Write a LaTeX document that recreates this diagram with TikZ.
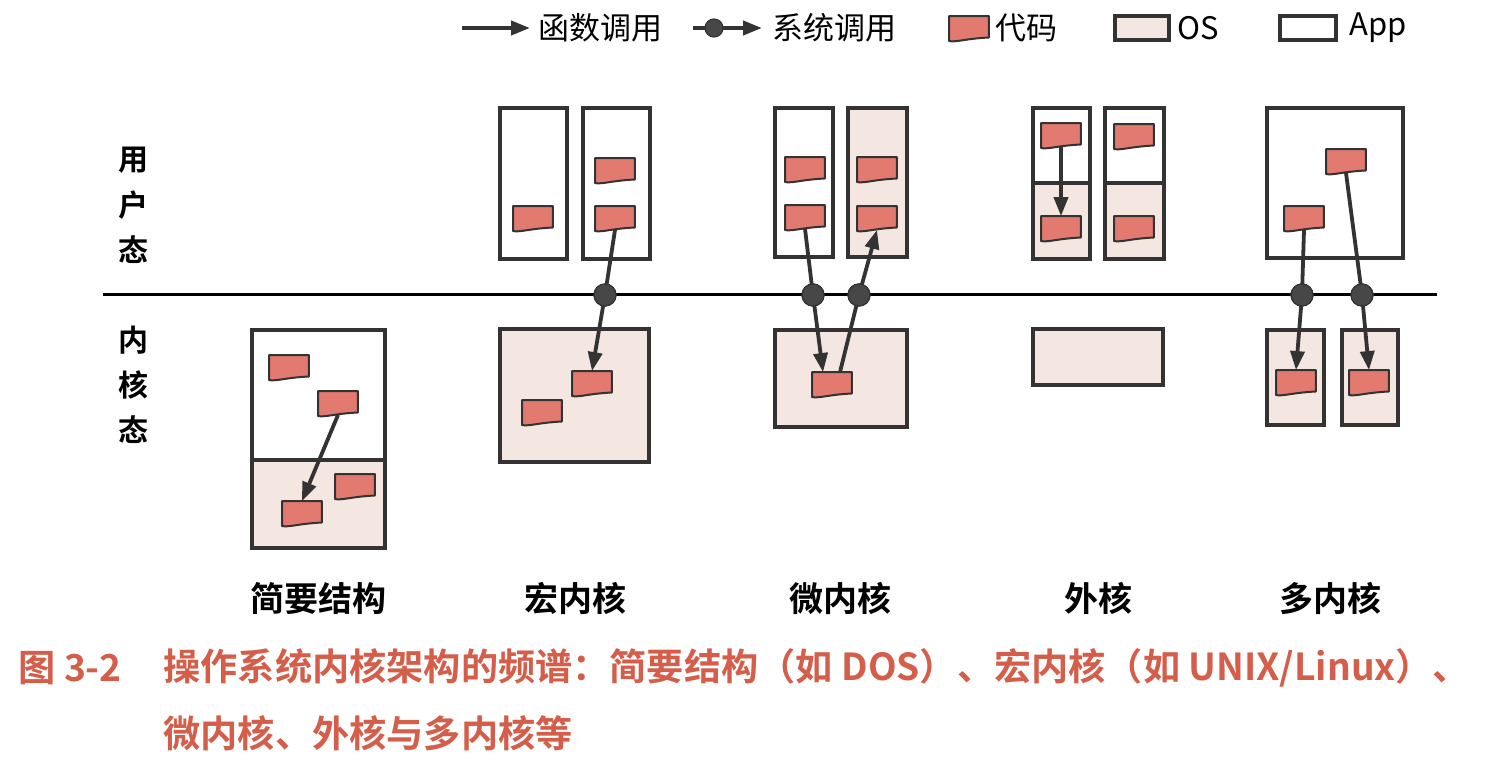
\documentclass[tikz,border=0pt]{standalone}
\usepackage{fontspec}
\setmainfont{Noto Sans CJK SC}
\newfontfamily\cjkb{Noto Sans CJK SC Bold}
\usetikzlibrary{arrows.meta,calc}
\definecolor{linec}{HTML}{333333}
\definecolor{codefill}{HTML}{E27A70}
\definecolor{osfill}{HTML}{F4E6E1}
\definecolor{capred}{HTML}{D45E4A}
\definecolor{dotc}{HTML}{474747}
\tikzset{
  sz/.style 2 args={minimum width=#1*0.5pt, minimum height=#2*0.5pt},
  appbox/.style={draw=linec, line width=1.9pt, fill=white, inner sep=0pt, rectangle},
  osbox/.style={draw=linec, line width=1.9pt, fill=osfill, inner sep=0pt, rectangle},
  codebox/.style={inner sep=0pt, minimum width=19.5pt, minimum height=11.5pt, rectangle},
  codeshape/.style={draw=linec, line width=1pt, fill=codefill, line join=round},
  scdot/.style={circle, fill=dotc, draw=linec, line width=0.6pt, inner sep=0pt, minimum size=11pt},
  callarrow/.style={draw=linec, line width=1.9pt, -{Triangle[length=9.5pt,width=7pt]}},
  callline/.style={draw=linec, line width=1.9pt},
  lbl/.style={font=\cjkb\fontsize{17pt}{20pt}\selectfont, text=black, inner sep=0pt},
  side/.style={font=\cjkb\fontsize{15pt}{18pt}\selectfont, text=black, inner sep=0pt},
  legtxt/.style={font=\fontsize{15.5pt}{18pt}\selectfont, text=black, inner sep=0pt, anchor=west},
  captxt/.style={font=\cjkb\fontsize{18.6pt}{23pt}\selectfont, text=capred, inner sep=0pt, anchor=west},
}
\newcommand{\codeblk}[2]{%
  \node[codebox] (#1) at (#2) {};
  \draw[codeshape] (#1.north west) -- (#1.north east) -- ([yshift=1.2pt]#1.south east)
    .. controls ([xshift=-2pt,yshift=0.6pt]#1.south) and ([xshift=-6pt,yshift=-1.2pt]#1.south) .. ([yshift=-0.6pt]#1.south west) -- cycle;
}
\begin{document}
\begin{tikzpicture}[x=0.5pt,y=-0.5pt]
\useasboundingbox (0,0) rectangle (1495,759);
\fill[white] (0,0) rectangle (1495,759);

% legend
\coordinate (la1) at (462,28); \coordinate (la2) at (530,28);
\draw[callarrow, line width=2pt] (la1) -- (la2);
\node[legtxt] (lt1) at (538,28) {函数调用};
\coordinate (lb1) at (693,28); \coordinate (lb2) at (762,28);
\draw[callarrow, line width=2pt] (lb1) -- (lb2);
\node[scdot, minimum size=9pt] (ldot) at (714,28) {};
\node[legtxt] (lt2) at (772,28) {系统调用};
\codeblk{lcode}{969,28}
\node[legtxt] (lt3) at (995,28) {代码};
\node[osbox, sz={54}{24}] (los) at (1142,28) {};
\node[legtxt] (lt4) at (1177,28) {OS};
\node[appbox, sz={56}{24}] (lapp) at (1308,28) {};
\node[legtxt] (lt5) at (1349,28) {App};

% side labels
\node[side] (u1l) at (133,160) {用};
\node[side] (u2l) at (133,205) {户};
\node[side] (u3l) at (133,250) {态};
\node[side] (k1l) at (133,340) {内};
\node[side] (k2l) at (133,385) {核};
\node[side] (k3l) at (133,430) {态};

% boundary line
\coordinate (bl) at (103,295); \coordinate (br) at (1437,295);
\draw[black, line width=1.5pt] (bl) -- (br);

% ---- simple structure
\node[appbox, sz={133}{130}] (sa) at (318.5,395) {};
\node[osbox, sz={133}{88}] (so) at (318.5,504) {};
\codeblk{s1}{289,367}
\codeblk{s2}{338,403}
\codeblk{s3}{355,486}
\codeblk{s4}{302,513}
\draw[callarrow] (s2.south) -- (s4.north);

% ---- monolithic
\node[appbox, sz={67}{151}] (ma1) at (533.5,183.5) {};
\node[appbox, sz={67}{151}] (ma2) at (616.5,183.5) {};
\node[osbox, sz={149}{133}] (mk) at (574.5,395.5) {};
\codeblk{m1}{533,218}
\codeblk{m2}{615,170}
\codeblk{m3}{615,218}
\codeblk{m4}{592,383}
\codeblk{m5}{542,412}
\node[scdot] (d1) at (605,295) {};
\draw[callline] (m3.south) -- (d1.center);
\draw[callarrow] (d1.center) -- (m4.north);
\node[scdot] at (d1) {};

% ---- microkernel
\node[appbox, sz={58}{149}] (ua) at (804,182.5) {};
\node[osbox, sz={59}{149}] (uo) at (877.5,182.5) {};
\node[osbox, sz={132}{97}] (uk) at (841,378.5) {};
\codeblk{u1}{805,169}
\codeblk{u2}{805,217}
\codeblk{u3}{877,169}
\codeblk{u4}{877,218}
\codeblk{u5}{832,384}
\node[scdot] (d2) at (813,295) {};
\node[scdot] (d3) at (859,295) {};
\draw[callline] (u2.south) -- (d2.center);
\draw[callarrow] (d2.center) -- ([xshift=-4.5pt]u5.north);
\draw[callline] ([xshift=4pt]u5.north) -- (d3.center);
\draw[callarrow] (d3.center) -- (u4.south);
\node[scdot] at (d2) {};
\node[scdot] at (d3) {};

% ---- exokernel
\node[appbox, sz={57}{75}] (ea1) at (1061.5,145.5) {};
\node[osbox, sz={57}{76}] (eo1) at (1061.5,221) {};
\node[appbox, sz={59}{75}] (ea2) at (1134.5,145.5) {};
\node[osbox, sz={59}{76}] (eo2) at (1134.5,221) {};
\node[osbox, sz={130}{56}] (ek) at (1098,357) {};
\codeblk{e1}{1061,135}
\codeblk{e2}{1061,228}
\codeblk{e3}{1134,136}
\codeblk{e4}{1134,228}
\draw[callarrow] (e1.south) -- (e2.north);

% ---- multikernel
\node[appbox, sz={136}{150}] (ka) at (1335,183) {};
\node[osbox, sz={57}{95}] (kk1) at (1295.5,377.5) {};
\node[osbox, sz={56}{95}] (kk2) at (1370,377.5) {};
\codeblk{k1}{1346,161}
\codeblk{k2}{1304,218}
\codeblk{k3}{1296,382}
\codeblk{k4}{1369,382}
\node[scdot] (d4) at (1302,295) {};
\node[scdot] (d5) at (1362,295) {};
\draw[callline] (k2.south) -- (d4.center);
\draw[callarrow] (d4.center) -- (k3.north);
\draw[callline] (k1.south) -- (d5.center);
\draw[callarrow] (d5.center) -- (k4.north);
\node[scdot] at (d4) {};
\node[scdot] at (d5) {};

% bottom labels
\node[lbl] (t1) at (318,598) {简要结构};
\node[lbl] (t2) at (575,598) {宏内核};
\node[lbl] (t3) at (840,598) {微内核};
\node[lbl] (t4) at (1098,598) {外核};
\node[lbl] (t5) at (1330,598) {多内核};

% caption
\node[captxt] (c0) at (18,668) {图 3-2};
\node[captxt] (c1) at (163,668) {操作系统内核架构的频谱：简要结构（如 DOS）、宏内核（如 UNIX/Linux）、};
\node[captxt] (c2) at (163,733) {微内核、外核与多内核等};
\end{tikzpicture}
\end{document}
